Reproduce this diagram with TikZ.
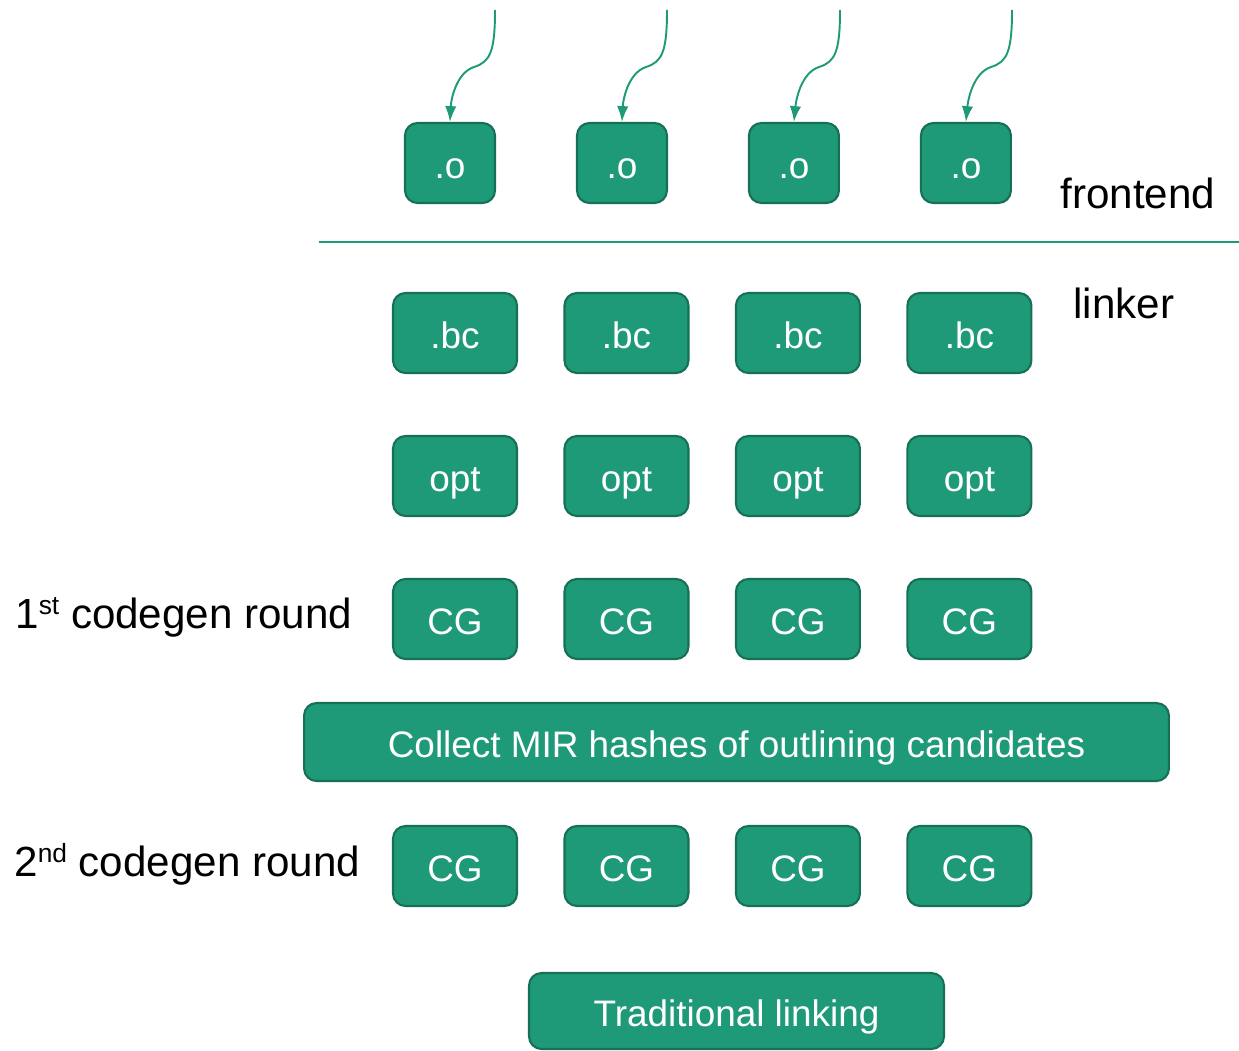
\documentclass[tikz,border=0pt]{standalone}
\usepackage{fontspec}
\setmainfont{Liberation Sans}
\usetikzlibrary{arrows.meta,positioning}
\definecolor{ltgreen}{RGB}{31,154,120}
\definecolor{ltdark}{RGB}{22,112,86}
\newcommand{\ordsup}[1]{\raisebox{0.62ex}{\fontsize{15}{17}\selectfont #1}}
\tikzstyle{arrow} = [line width=1.1pt,-{Latex[length=9pt,width=6.5pt]},color=ltgreen]
\tikzstyle{stage} = [rectangle, rounded corners=0.25cm, minimum width=2.48cm, minimum height=1.6cm, inner sep=0pt, text height=17.5pt, text depth=0pt, text centered, draw=ltdark, fill=ltgreen, line width=1.2pt, text=white, font=\fontsize{21}{25}\selectfont]
\tikzstyle{phase} = [anchor=west, inner sep=0pt, font=\fontsize{24}{28}\selectfont]
\begin{document}
\begin{tikzpicture}[x=0.02cm, y=-0.02cm]
\useasboundingbox (0,0) rectangle (1239,1050);
% Frontend objects
\node (o1) [stage, minimum width=1.8cm] at (450,163) {.o};
\node (o2) [stage, minimum width=1.8cm, right of=o1, node distance=3.44cm] {.o};
\node (o3) [stage, minimum width=1.8cm, right of=o2, node distance=3.44cm] {.o};
\node (o4) [stage, minimum width=1.8cm, right of=o3, node distance=3.44cm] {.o};

% Incoming sources
\coordinate (s1) at (495,10);
\coordinate (s2) at (667,10);
\coordinate (s3) at (840,10);
\coordinate (s4) at (1012,10);
\draw[arrow] (s1) .. controls (495,52) and (490,62) .. (474,67) .. controls (456,73) and (451,100) .. (o1.north);
\draw[arrow] (s2) .. controls (667,52) and (662,62) .. (646,67) .. controls (628,73) and (623,100) .. (o2.north);
\draw[arrow] (s3) .. controls (840,52) and (835,62) .. (819,67) .. controls (801,73) and (796,100) .. (o3.north);
\draw[arrow] (s4) .. controls (1012,52) and (1007,62) .. (991,67) .. controls (973,73) and (968,100) .. (o4.north);

% Separator
\coordinate (l1) at (319,242);
\coordinate (l2) at (1239,242);
\draw[ltgreen, line width=1.3pt] (l1) -- (l2);

% Linker stages
\node (bc1) [stage] at (455,333) {.bc};
\node (bc2) [stage, right of=bc1, node distance=3.43cm] {.bc};
\node (bc3) [stage, right of=bc2, node distance=3.43cm] {.bc};
\node (bc4) [stage, right of=bc3, node distance=3.43cm] {.bc};

\node (opt1) [stage] at (455,476) {opt};
\node (opt2) [stage, right of=opt1, node distance=3.43cm] {opt};
\node (opt3) [stage, right of=opt2, node distance=3.43cm] {opt};
\node (opt4) [stage, right of=opt3, node distance=3.43cm] {opt};

\node (cga1) [stage] at (455,619) {CG};
\node (cga2) [stage, right of=cga1, node distance=3.43cm] {CG};
\node (cga3) [stage, right of=cga2, node distance=3.43cm] {CG};
\node (cga4) [stage, right of=cga3, node distance=3.43cm] {CG};

\node (collect) [stage, minimum width=17.3cm, minimum height=1.56cm] at (736.5,742) {Collect MIR hashes of outlining candidates};

\node (cgb1) [stage] at (455,866) {CG};
\node (cgb2) [stage, right of=cgb1, node distance=3.43cm] {CG};
\node (cgb3) [stage, right of=cgb2, node distance=3.43cm] {CG};
\node (cgb4) [stage, right of=cgb3, node distance=3.43cm] {CG};

\node (link) [stage, minimum width=8.3cm, minimum height=1.52cm] at (736.5,1011) {Traditional linking};

% Labels
\node (fe) [phase] at (1060,193) {frontend};
\node (lk) [phase] at (1073,303) {linker};
\node (r1) [phase] at (15,617) {1\ordsup{st} codegen round};
\node (r2) [phase] at (14,864) {2\ordsup{nd} codegen round};
\end{tikzpicture}
\end{document}
